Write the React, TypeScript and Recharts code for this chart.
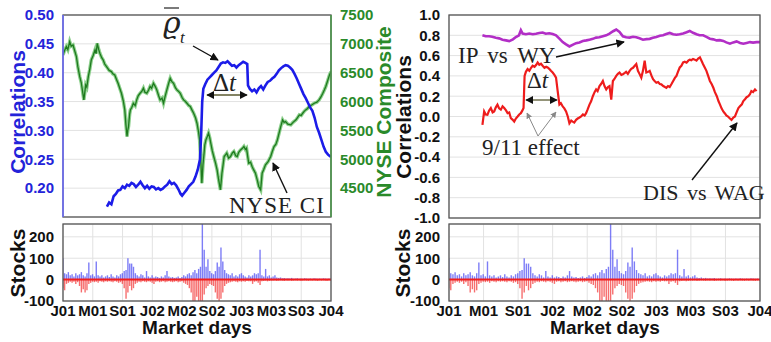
import React from 'react';
import { LineChart, ComposedChart, Line, Bar, XAxis, YAxis, CartesianGrid, ReferenceLine } from 'recharts';

const monthTicks = [0, 4, 8, 12, 16, 20, 24, 28, 32, 36];
const monthLabels = ['J01', 'M01', 'S01', 'J02', 'M02', 'S02', 'J03', 'M03', 'S03', 'J04'];

// mean correlation (left axis)
const corrMonths = [5.9, 6.2, 6.5, 6.8, 7.1, 7.4, 7.7, 8.0, 8.3, 8.6, 8.9, 9.2, 9.5, 9.8, 10.1, 10.4, 10.7, 11.0, 11.3, 11.6, 11.9, 12.2, 12.5, 12.8, 13.1, 13.4, 13.7, 14.0, 14.3, 14.6, 14.9, 15.2, 15.5, 15.8, 16.0, 16.3, 16.6, 16.9, 17.2, 17.5, 17.8, 18.1, 18.4, 18.55, 18.7, 18.85, 19.1, 19.4, 19.7, 20.0, 20.3, 20.6, 20.9, 21.2, 21.5, 21.8, 22.1, 22.4, 22.7, 23.0, 23.3, 23.6, 23.9, 24.2, 24.5, 24.75, 24.85, 25.1, 25.4, 25.7, 26.0, 26.3, 26.6, 26.9, 27.2, 27.5, 27.8, 28.1, 28.4, 28.7, 29.0, 29.3, 29.6, 29.9, 30.2, 30.5, 30.8, 31.1, 31.4, 31.7, 32.0, 32.3, 32.6, 32.9, 33.2, 33.5, 33.8, 34.1, 34.4, 34.7, 35.0, 35.3, 35.6, 36.0];
const corrValues = [0.168, 0.175, 0.172, 0.186, 0.19, 0.196, 0.197, 0.203, 0.2, 0.206, 0.204, 0.209, 0.207, 0.202, 0.206, 0.211, 0.205, 0.2, 0.204, 0.199, 0.203, 0.202, 0.198, 0.2, 0.197, 0.199, 0.203, 0.206, 0.212, 0.207, 0.209, 0.205, 0.198, 0.19, 0.187, 0.192, 0.197, 0.203, 0.207, 0.211, 0.22, 0.232, 0.25, 0.29, 0.35, 0.372, 0.38, 0.388, 0.392, 0.396, 0.4, 0.404, 0.41, 0.416, 0.418, 0.417, 0.42, 0.416, 0.412, 0.413, 0.409, 0.413, 0.416, 0.419, 0.417, 0.415, 0.378, 0.372, 0.368, 0.371, 0.366, 0.373, 0.377, 0.371, 0.378, 0.384, 0.386, 0.39, 0.393, 0.398, 0.404, 0.408, 0.411, 0.413, 0.412, 0.409, 0.405, 0.398, 0.39, 0.381, 0.372, 0.363, 0.356, 0.348, 0.34, 0.334, 0.322, 0.306, 0.296, 0.284, 0.272, 0.263, 0.258, 0.254];

// NYSE composite index (right axis)
const nyseMonths = [0, 0.2, 0.45, 0.65, 0.9, 1.1, 1.35, 1.55, 1.8, 2.0, 2.25, 2.45, 2.6, 2.8, 2.95, 3.05, 3.2, 3.4, 3.6, 3.8, 4.05, 4.3, 4.45, 4.6, 4.8, 4.95, 5.2, 5.4, 5.6, 5.85, 6.2, 6.5, 6.7, 6.95, 7.2, 7.4, 7.6, 7.85, 8.1, 8.3, 8.45, 8.6, 8.7, 8.8, 8.95, 9.05, 9.25, 9.45, 9.7, 9.9, 10.1, 10.35, 10.6, 10.8, 11.0, 11.25, 11.5, 11.7, 11.9, 12.15, 12.4, 12.6, 12.85, 13.05, 13.3, 13.5, 13.7, 13.95, 14.2, 14.4, 14.6, 14.85, 15.1, 15.3, 15.5, 15.75, 16.0, 16.2, 16.45, 16.65, 16.9, 17.1, 17.3, 17.55, 17.8, 18.0, 18.2, 18.35, 18.5, 18.65, 18.8, 18.95, 19.05, 19.2, 19.4, 19.55, 19.7, 19.85, 20.05, 20.25, 20.5, 20.7, 20.9, 21.15, 21.35, 21.5, 21.65, 21.85, 22.0, 22.25, 22.5, 22.75, 22.95, 23.2, 23.4, 23.6, 23.85, 24.1, 24.3, 24.5, 24.65, 24.8, 24.95, 25.2, 25.4, 25.6, 25.85, 26.1, 26.3, 26.55, 26.75, 26.95, 27.2, 27.55, 27.9, 28.1, 28.35, 28.6, 28.8, 29.0, 29.25, 29.5, 29.7, 29.9, 30.2, 30.6, 30.9, 31.3, 31.5, 31.75, 32.0, 32.2, 32.4, 32.6, 32.85, 33.05, 33.4, 33.75, 34.1, 34.4, 34.65, 34.9, 35.1, 35.3, 35.55, 35.8, 36.0];
const nyseValues = [6808, 6880, 6952, 6900, 7038, 6960, 6981, 6890, 6779, 6600, 6433, 6330, 6202, 6029, 6180, 6288, 6250, 6433, 6560, 6721, 6800, 6894, 6830, 7010, 6900, 6837, 6760, 6721, 6650, 6606, 6540, 6519, 6480, 6461, 6380, 6317, 6240, 6144, 6010, 5856, 5600, 5394, 5500, 5567, 5780, 5856, 5900, 5971, 5930, 6029, 6100, 6144, 6180, 6231, 6160, 6144, 6200, 6260, 6230, 6317, 6260, 6202, 6100, 6029, 6060, 5971, 6080, 6202, 6320, 6404, 6350, 6317, 6240, 6202, 6180, 6144, 6070, 6029, 6000, 5971, 5930, 5914, 5860, 5798, 5720, 5625, 5480, 5337, 5000, 4587, 4900, 5106, 5250, 5337, 5400, 5452, 5380, 5279, 5150, 5048, 4930, 4817, 4650, 4471, 4760, 4900, 5048, 5080, 5106, 5020, 5048, 5110, 5135, 5060, 5048, 5120, 5163, 5190, 5221, 5170, 5192, 5060, 4933, 4950, 4875, 4820, 4760, 4640, 4529, 4471, 4760, 4820, 4904, 4960, 5048, 5130, 5221, 5260, 5337, 5440, 5567, 5683, 5640, 5654, 5610, 5596, 5640, 5683, 5720, 5769, 5760, 5798, 5830, 5856, 5880, 5914, 5940, 5971, 5990, 6029, 6080, 6144, 6200, 6260, 6360, 6462, 6519];

// IP vs WY pair correlation
const ipwyMonths = [3.87, 4.25, 4.65, 5.0, 5.42, 5.8, 6.19, 6.6, 6.97, 7.4, 7.74, 8.1, 8.32, 8.52, 8.9, 9.29, 9.7, 10.07, 10.45, 10.84, 11.2, 11.61, 12.0, 12.39, 12.78, 13.16, 13.55, 13.94, 14.3, 14.71, 15.1, 15.49, 15.9, 16.26, 16.65, 17.03, 17.4, 17.81, 18.2, 18.58, 19.0, 19.36, 19.74, 20.13, 20.5, 20.91, 21.3, 21.68, 22.05, 22.45, 22.85, 23.23, 23.6, 24.0, 24.4, 24.78, 25.15, 25.55, 25.95, 26.33, 26.7, 27.1, 27.5, 27.87, 28.25, 28.65, 29.0, 29.42, 29.8, 30.2, 30.6, 30.97, 31.35, 31.75, 32.1, 32.52, 32.9, 33.29, 33.7, 34.07, 34.45, 34.84, 35.2, 35.62, 36.0];
const ipwyValues = [0.8, 0.79, 0.79, 0.785, 0.775, 0.77, 0.757, 0.75, 0.743, 0.76, 0.783, 0.8, 0.85, 0.817, 0.81, 0.818, 0.81, 0.815, 0.822, 0.827, 0.815, 0.82, 0.812, 0.8, 0.767, 0.733, 0.71, 0.69, 0.705, 0.723, 0.73, 0.743, 0.75, 0.757, 0.765, 0.777, 0.78, 0.79, 0.8, 0.817, 0.84, 0.857, 0.833, 0.79, 0.78, 0.777, 0.785, 0.78, 0.77, 0.757, 0.762, 0.765, 0.775, 0.783, 0.795, 0.8, 0.812, 0.823, 0.81, 0.805, 0.81, 0.817, 0.83, 0.843, 0.825, 0.81, 0.8, 0.8, 0.785, 0.767, 0.76, 0.75, 0.752, 0.745, 0.73, 0.717, 0.73, 0.74, 0.725, 0.717, 0.725, 0.733, 0.728, 0.733, 0.733];

// DIS vs WAG pair correlation
const diswagMonths = [3.87, 4.07, 4.25, 4.45, 4.65, 4.84, 5.05, 5.23, 5.42, 5.61, 5.8, 6.0, 6.2, 6.39, 6.6, 6.78, 6.97, 7.16, 7.35, 7.55, 7.74, 7.94, 8.13, 8.32, 8.5, 8.63, 8.75, 8.9, 9.1, 9.3, 9.5, 9.68, 9.9, 10.1, 10.26, 10.45, 10.65, 10.84, 11.05, 11.25, 11.42, 11.6, 11.8, 12.0, 12.2, 12.39, 12.58, 12.78, 12.95, 13.16, 13.35, 13.55, 13.75, 13.94, 14.15, 14.32, 14.5, 14.71, 14.9, 15.1, 15.29, 15.5, 15.7, 15.87, 16.05, 16.26, 16.45, 16.65, 16.85, 17.03, 17.2, 17.42, 17.6, 17.81, 18.0, 18.2, 18.4, 18.58, 18.78, 18.97, 19.15, 19.36, 19.55, 19.74, 19.95, 20.13, 20.35, 20.5, 20.7, 20.91, 21.1, 21.3, 21.5, 21.68, 21.87, 22.05, 22.26, 22.45, 22.65, 22.84, 23.05, 23.23, 23.45, 23.62, 23.8, 24.0, 24.2, 24.4, 24.58, 24.8, 25.0, 25.16, 25.35, 25.55, 25.74, 25.95, 26.15, 26.33, 26.5, 26.71, 26.9, 27.1, 27.29, 27.5, 27.7, 27.87, 28.05, 28.25, 28.45, 28.65, 28.84, 29.05, 29.23, 29.4, 29.62, 29.8, 30.0, 30.2, 30.4, 30.6, 30.78, 31.0, 31.2, 31.36, 31.55, 31.75, 31.94, 32.1, 32.3, 32.52, 32.7, 32.91, 33.1, 33.29, 33.5, 33.68, 33.9, 34.05, 34.26, 34.45, 34.65, 34.84, 35.0, 35.2, 35.42, 35.6, 35.81, 36.0];
const diswagValues = [-0.083, 0.05, 0.02, 0.017, 0.06, 0.083, 0.04, 0.05, 0.09, 0.117, 0.08, 0.067, 0.1, 0.083, 0.06, 0.033, 0.04, -0.017, -0.03, -0.05, -0.02, 0.0, 0.02, 0.033, 0.06, 0.083, 0.4, 0.44, 0.467, 0.45, 0.48, 0.5, 0.49, 0.51, 0.533, 0.51, 0.52, 0.5, 0.48, 0.49, 0.483, 0.47, 0.45, 0.433, 0.41, 0.383, 0.25, 0.117, 0.13, 0.1, 0.08, 0.05, 0.0, -0.067, -0.04, -0.05, -0.06, -0.033, -0.02, -0.01, 0.0, 0.02, 0.01, 0.033, 0.07, 0.117, 0.15, 0.2, 0.24, 0.267, 0.25, 0.3, 0.32, 0.35, 0.3, 0.267, 0.29, 0.3, 0.167, 0.35, 0.37, 0.4, 0.42, 0.433, 0.41, 0.417, 0.43, 0.44, 0.42, 0.45, 0.47, 0.48, 0.5, 0.517, 0.45, 0.42, 0.383, 0.45, 0.55, 0.433, 0.44, 0.45, 0.4, 0.367, 0.35, 0.333, 0.34, 0.32, 0.317, 0.3, 0.29, 0.283, 0.3, 0.29, 0.317, 0.35, 0.38, 0.4, 0.44, 0.483, 0.5, 0.533, 0.54, 0.53, 0.55, 0.56, 0.555, 0.567, 0.56, 0.55, 0.57, 0.583, 0.55, 0.517, 0.48, 0.45, 0.4, 0.35, 0.32, 0.283, 0.24, 0.2, 0.15, 0.12, 0.08, 0.05, 0.03, 0.01, 0.0, -0.02, -0.033, -0.01, 0.0, 0.04, 0.083, 0.1, 0.12, 0.15, 0.17, 0.19, 0.2, 0.22, 0.25, 0.24, 0.267, 0.25];

// stocks above / below threshold, one bin every quarter month from J01 to J04
const stockUp = [100, 30, 25, 35, 20, 25, 15, 30, 20, 25, 35, 20, 15, 30, 80, 20, 25, 15, 85, 20, 15, 20, 10, 15, 20, 12, 25, 15, 10, 20, 15, 25, 30, 40, 45, 100, 75, 75, 60, 30, 20, 15, 25, 20, 10, 40, 15, 10, 20, 10, 15, 12, 8, 15, 10, 20, 40, 15, 10, 12, 8, 10, 15, 8, 12, 20, 15, 25, 30, 20, 35, 45, 30, 50, 60, 260, 140, 60, 95, 40, 30, 25, 40, 80, 60, 150, 85, 45, 30, 25, 20, 30, 15, 20, 15, 25, 30, 20, 15, 10, 20, 15, 20, 30, 25, 30, 140, 20, 15, 50, 15, 20, 10, 15, 20, 10, 8, 10, 6, 8, 5, 6, 5, 8, 4, 5, 6, 4, 5, 4, 6, 5, 4, 5, 4, 6, 5, 4, 5, 4, 6, 5, 4, 5, 4];
const stockDown = [-40, -50, -20, -15, -10, -15, -10, -20, -12, -30, -60, -45, -60, -50, -20, -15, -10, -12, -10, -15, -8, -10, -12, -8, -10, -8, -10, -12, -8, -10, -15, -12, -20, -40, -90, -60, -30, -50, -40, -20, -15, -10, -12, -8, -10, -12, -8, -10, -15, -20, -10, -8, -12, -10, -8, -12, -10, -8, -10, -12, -10, -8, -12, -10, -8, -15, -20, -25, -40, -60, -100, -100, -80, -100, -100, -100, -70, -40, -30, -20, -25, -30, -60, -90, -100, -90, -60, -30, -20, -15, -12, -10, -8, -10, -12, -8, -10, -8, -10, -6, -8, -8, -20, -10, -8, -15, -25, -8, -6, -5, -8, -6, -5, -5, -4, -6, -5, -4, -5, -6, -4, -5, -4, -6, -5, -4, -5, -4, -6, -5, -4, -5, -6, -4, -5, -4, -5, -6, -4, -5, -4, -5, -6, -4, -5];

const zip = (ms: number[], vs: number[]) => ms.map((m, i) => ({ m, v: vs[i] }));
const corrData = zip(corrMonths, corrValues);
const nyseData = zip(nyseMonths, nyseValues);
const ipwyData = zip(ipwyMonths, ipwyValues);
const diswagData = zip(diswagMonths, diswagValues);
const stockData = stockUp.map((u, i) => ({ m: i / 4, up: u, down: stockDown[i] }));

const sans = '"Liberation Sans", Arial, sans-serif';
const serif = '"Liberation Serif", "DejaVu Serif", serif';
const grid = '#e2e2e2';

const tickStyle = (fill: string, size: number) => ({ fill, fontSize: size, fontWeight: 'bold', fontFamily: sans });

const TopLeft = () => (
  <div style={{ position: 'absolute', left: 0, top: 0 }}>
    <LineChart width={390} height={222} margin={{ top: 15, right: 0, bottom: 0, left: 0 }}>
      <CartesianGrid stroke={grid} yAxisId="l" />
      <XAxis dataKey="m" type="number" domain={[0, 36]} ticks={monthTicks} tick={false} tickLine={false} axisLine={false} height={5} allowDataOverflow />
      <YAxis yAxisId="l" width={63} domain={[0.15, 0.5]} ticks={[0.2, 0.25, 0.3, 0.35, 0.4, 0.45, 0.5]} interval={0} tickFormatter={(v: number) => v.toFixed(2)} tick={tickStyle('#2323d9', 15)} tickLine={false} axisLine={false} tickMargin={3} allowDataOverflow />
      <YAxis yAxisId="r" orientation="right" width={59} domain={[4000, 7500]} ticks={[4500, 5000, 5500, 6000, 6500, 7000, 7500]} interval={0} tick={tickStyle('#2a8a2a', 15)} tickLine={false} axisLine={false} tickMargin={3} allowDataOverflow />
      <Line yAxisId="r" data={nyseData} dataKey="v" stroke="#8ccf8c" strokeWidth={3.5} dot={false} isAnimationActive={false} />
      <Line yAxisId="r" data={nyseData} dataKey="v" stroke="#1e7a1e" strokeWidth={1.3} dot={false} isAnimationActive={false} />
      <Line yAxisId="l" data={corrData} dataKey="v" stroke="#1c1ce8" strokeWidth={2.6} dot={false} isAnimationActive={false} />
    </LineChart>
  </div>
);

const TopRight = () => (
  <div style={{ position: 'absolute', left: 390, top: 0 }}>
    <LineChart width={381} height={232} margin={{ top: 15, right: 11, bottom: 0, left: 0 }}>
      <CartesianGrid stroke={grid} />
      <XAxis dataKey="m" type="number" domain={[0, 36]} ticks={monthTicks} tick={false} tickLine={false} axisLine={false} height={14} allowDataOverflow />
      <YAxis width={59} domain={[-1, 1]} ticks={[-1, -0.8, -0.6, -0.4, -0.2, 0, 0.2, 0.4, 0.6, 0.8, 1]} interval={0} tickFormatter={(v: number) => v.toFixed(1)} tick={tickStyle('#111', 15)} tickLine={false} axisLine={false} tickMargin={3} />
      <Line data={ipwyData} dataKey="v" stroke="#b22ec6" strokeWidth={2.6} dot={false} isAnimationActive={false} />
      <Line data={diswagData} dataKey="v" stroke="#ee1c1c" strokeWidth={2.2} dot={false} isAnimationActive={false} />
    </LineChart>
  </div>
);

const Stocks = ({ left, width, right }: { left: number; width: number; right: number }) => (
  <div style={{ position: 'absolute', left, top: 0 }}>
    <ComposedChart width={width} height={342} data={stockData} stackOffset="sign" margin={{ top: 224, right, bottom: 0, left: 0 }}>
      <CartesianGrid stroke={grid} />
      <XAxis dataKey="m" type="number" domain={[0, 36]} ticks={monthTicks} tickFormatter={(v: number) => monthLabels[monthTicks.indexOf(v)]} tick={tickStyle('#111', 15)} tickLine={false} axisLine={false} tickSize={0} tickMargin={4} height={41} interval={0} allowDataOverflow />
      <YAxis width={left === 0 ? 63 : 59} domain={[-100, 260]} ticks={[-100, 0, 100, 200]} interval={0} tick={tickStyle('#111', 15)} tickLine={false} axisLine={false} tickMargin={3} allowDataOverflow />
      <Bar dataKey="up" stackId="s" fill="#4646f2" fillOpacity={0.7} barSize={1.4} isAnimationActive={false} />
      <Bar dataKey="down" stackId="s" fill="#f23030" fillOpacity={0.7} barSize={1.4} isAnimationActive={false} />
      <ReferenceLine y={0} stroke="#f01e1e" strokeWidth={2} />
    </ComposedChart>
  </div>
);

const Overlay = () => (
  <svg width={771} height={342} style={{ position: 'absolute', left: 0, top: 0, pointerEvents: 'none' }}>
    <defs>
      <marker id="ah" viewBox="0 0 10 10" refX="9" refY="5" markerWidth="6" markerHeight="6" orient="auto-start-reverse">
        <path d="M0,0 L10,5 L0,10 z" fill="#111" />
      </marker>
      <marker id="ahg" viewBox="0 0 10 10" refX="9" refY="5" markerWidth="6" markerHeight="6" orient="auto-start-reverse">
        <path d="M0,0 L10,5 L0,10 z" fill="#888" />
      </marker>
    </defs>
    <g fill="none" stroke="#555" strokeWidth={1.3}>
      <rect x={63} y={15} width={268} height={202} />
      <rect x={449} y={15} width={311} height={203} />
      <rect x={63} y={224} width={268} height={77} />
      <rect x={449} y={224} width={311} height={77} />
    </g>
    <line x1={63} y1={15} x2={63} y2={217} stroke="#6b6bff" strokeWidth={1.5} />
    <line x1={331} y1={15} x2={331} y2={217} stroke="#4a9a4a" strokeWidth={1.5} />

    <g fontFamily={sans} fontWeight="bold" textAnchor="middle">
      <text transform="translate(25,112) rotate(-90)" fill="#2323d9" fontSize={21}>Correlations</text>
      <text transform="translate(391,112) rotate(-90)" fill="#2a8a2a" fontSize={21}>NYSE Composite</text>
      <text transform="translate(411,117) rotate(-90)" fill="#111" fontSize={21}>Correlations</text>
      <text transform="translate(25,263) rotate(-90)" fill="#111" fontSize={21}>Stocks</text>
      <text transform="translate(410,263) rotate(-90)" fill="#111" fontSize={21}>Stocks</text>
      <text x={197} y={334} fill="#111" fontSize={19}>Market days</text>
      <text x={605} y={334} fill="#111" fontSize={19}>Market days</text>
    </g>

    <g fontFamily={serif} fill="#222">
      <line x1={164} y1={8} x2={179} y2={8} stroke="#222" strokeWidth={1.2} />
      <text x={163} y={33} fontSize={30} fontStyle="italic" fontFamily='"DejaVu Serif", serif'>ϱ</text>
      <text x={180} y={43} fontSize={17} fontStyle="italic">t</text>
      <line x1={193} y1={46} x2={218} y2={60} stroke="#111" strokeWidth={1.4} markerEnd="url(#ah)" />
      <text x={213} y={91} fontSize={25}>Δ<tspan fontStyle="italic">t</tspan></text>
      <line x1={207} y1={95} x2={247} y2={95} stroke="#5a5a30" strokeWidth={1.3} markerStart="url(#ah)" markerEnd="url(#ah)" />
      <text x={229} y={213} fontSize={23} letterSpacing={1}>NYSE CI</text>
      <line x1={287} y1={193} x2={273} y2={163} stroke="#111" strokeWidth={1.4} markerEnd="url(#ah)" />

      <text x={458} y={63} fontSize={23} wordSpacing={4}>IP vs WY</text>
      <line x1={556} y1={57} x2={624} y2={42} stroke="#111" strokeWidth={1.4} markerEnd="url(#ah)" />
      <text x={527} y={88} fontSize={23}>Δ<tspan fontStyle="italic">t</tspan></text>
      <line x1={526} y1={100} x2={557} y2={100} stroke="#5a5a30" strokeWidth={1.3} markerStart="url(#ah)" markerEnd="url(#ah)" />
      <line x1={538} y1={136} x2={527} y2={113} stroke="#888" strokeWidth={1} markerEnd="url(#ahg)" />
      <line x1={538} y1={136} x2={556} y2={112} stroke="#888" strokeWidth={1} markerEnd="url(#ahg)" />
      <text x={482} y={155} fontSize={23}>9/11 effect</text>
      <text x={643} y={200} fontSize={22} wordSpacing={3}>DIS vs WAG</text>
      <line x1={692} y1={180} x2={737} y2={123} stroke="#111" strokeWidth={1.4} markerEnd="url(#ah)" />
    </g>
  </svg>
);

export default function App() {
  return (
    <div style={{ position: 'absolute', left: 0, top: 0, width: 771, height: 342, background: '#fff', overflow: 'hidden' }}>
      <TopLeft />
      <TopRight />
      <Stocks left={0} width={390} right={59} />
      <Stocks left={390} width={381} right={11} />
      <Overlay />
    </div>
  );
}
